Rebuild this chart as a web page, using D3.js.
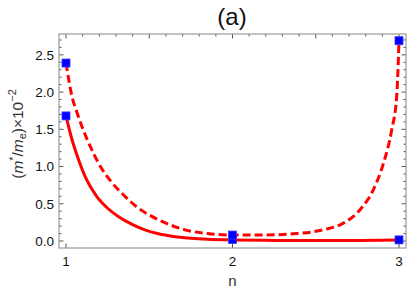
<!DOCTYPE html>
<html>
<head>
<meta charset="utf-8">
<script src="https://cdn.jsdelivr.net/npm/d3@7"></script>
<style>
  body { margin: 0; background: #fff; }
  svg { font-family: "Liberation Sans", Arial, sans-serif; }
</style>
</head>
<body>
<div id="chart"></div>
<script>
const width = 407;
const height = 291;
const margin = { top: 34, right: 1, bottom: 43, left: 59 };

// measured points (blue squares)
const pointsN = [1, 2, 3];
const solidPoints = [1.68, 0.02, 0.015];
const dashedPoints = [2.39, 0.08, 2.69];

// curves
const solidCurveN = [1.0, 1.03, 1.074, 1.12, 1.184, 1.25, 1.314, 1.4, 1.474, 1.55, 1.635, 1.75, 1.85, 2.0, 2.25, 2.5, 2.75, 3.0];
const solidCurveV = [1.68, 1.41, 1.10, 0.84, 0.60, 0.44, 0.33, 0.22, 0.15, 0.10, 0.065, 0.038, 0.024, 0.015, 0.008, 0.006, 0.008, 0.015];
const dashedCurveN = [1.0, 1.034, 1.07, 1.104, 1.15, 1.194, 1.27, 1.354, 1.43, 1.515, 1.6, 1.715, 1.85, 2.0, 2.185, 2.385, 2.545, 2.666, 2.766, 2.846, 2.906, 2.956, 2.986, 3.0];
const dashedCurveV = [2.39, 1.96, 1.70, 1.49, 1.25, 1.05, 0.80, 0.60, 0.45, 0.33, 0.24, 0.15, 0.10, 0.08, 0.08, 0.10, 0.15, 0.24, 0.42, 0.69, 1.04, 1.49, 1.94, 2.69];

const yTicks = [0, 0.5, 1, 1.5, 2, 2.5];
const xTicks = [1, 2, 3];

const x = d3.scaleLinear()
    .domain([0.958, 3.042])
    .range([margin.left, width - margin.right]);

const y = d3.scaleLinear()
    .domain([-0.094, 2.78])
    .range([height - margin.bottom, margin.top]);

const svg = d3.select('#chart')
    .append('svg')
    .attr('width', width)
    .attr('height', height);

const frameColor = '#999';
const x0 = margin.left, x1 = width - margin.right;
const y0 = height - margin.bottom, y1 = margin.top;

// minor ticks
const yMinor = d3.range(0, 28).map(i => i / 10);
const xMinor = d3.range(10, 31).map(i => i / 10);

const ticks = svg.append('g').attr('stroke', '#555').attr('stroke-width', 1);
yMinor.forEach(v => {
    const major = Math.abs(v * 2 - Math.round(v * 2)) < 1e-6;
    const len = major ? 4.5 : 2.5;
    ticks.append('line')
        .attr('x1', x0).attr('x2', x0 + len)
        .attr('y1', y(v)).attr('y2', y(v));
    ticks.append('line')
        .attr('x1', x1).attr('x2', x1 - len)
        .attr('y1', y(v)).attr('y2', y(v));
});
xMinor.forEach(v => {
    const major = Math.abs(v * 2 - Math.round(v * 2)) < 1e-6;
    const len = major ? 4.5 : 2.5;
    ticks.append('line')
        .attr('x1', x(v)).attr('x2', x(v))
        .attr('y1', y1).attr('y2', y1 + len);
});
xTicks.forEach(v => {
    ticks.append('line')
        .attr('x1', x(v)).attr('x2', x(v))
        .attr('y1', y0).attr('y2', y0 - 4.5);
});

// frame
svg.append('rect')
    .attr('x', x0).attr('y', y1)
    .attr('width', x1 - x0).attr('height', y0 - y1)
    .attr('fill', 'none')
    .attr('stroke', frameColor)
    .attr('stroke-width', 1.2);

// tick labels
svg.append('g').selectAll('text')
    .data(yTicks)
    .join('text')
    .attr('x', x0 - 5)
    .attr('y', d => y(d))
    .attr('dy', '0.36em')
    .attr('text-anchor', 'end')
    .attr('font-size', '13.5px')
    .attr('fill', '#111')
    .text(d => d.toFixed(1));

svg.append('g').selectAll('text')
    .data(xTicks)
    .join('text')
    .attr('x', d => x(d))
    .attr('y', y0 + 18)
    .attr('text-anchor', 'middle')
    .attr('font-size', '13.5px')
    .attr('fill', '#111')
    .text(d => d);

// axis labels
svg.append('text')
    .attr('x', x(2))
    .attr('y', 286)
    .attr('text-anchor', 'middle')
    .attr('font-size', '15px')
    .attr('fill', '#333')
    .text('n');

const yl = svg.append('text')
    .attr('transform', `translate(23, 134) rotate(-90)`)
    .attr('text-anchor', 'middle')
    .attr('font-size', '15.5px')
    .attr('fill', '#333');
yl.append('tspan').text('(');
yl.append('tspan').attr('font-style', 'italic').text('m');
yl.append('tspan').attr('font-size', '10.5px').attr('dy', '-6').text('*');
yl.append('tspan').attr('dy', '6').text('/');
yl.append('tspan').attr('font-style', 'italic').text('m');
yl.append('tspan').attr('font-size', '11px').attr('dy', '3').text('e');
yl.append('tspan').attr('dy', '-3').text(')×10');
yl.append('tspan').attr('font-size', '11px').attr('dy', '-7').text('−2');

// title
svg.append('text')
    .attr('x', 232)
    .attr('y', 25)
    .attr('text-anchor', 'middle')
    .attr('font-size', '24px')
    .attr('fill', '#111')
    .text('(a)');

// curves
const line = d3.line()
    .x(d => x(d[0]))
    .y(d => y(d[1]))
    .curve(d3.curveMonotoneX);

const plot = svg.append('g');

plot.append('path')
    .datum(solidCurveN.map((n, i) => [n, solidCurveV[i]]))
    .attr('fill', 'none')
    .attr('stroke', '#ff0000')
    .attr('stroke-width', 3)
    .attr('d', line);

plot.append('path')
    .datum(dashedCurveN.map((n, i) => [n, dashedCurveV[i]]))
    .attr('fill', 'none')
    .attr('stroke', '#ff0000')
    .attr('stroke-width', 3)
    .attr('stroke-dasharray', '8,4')
    .attr('d', line);

// squares
const sq = 8;
const allPts = pointsN.map((n, i) => [n, solidPoints[i]])
    .concat(pointsN.map((n, i) => [n, dashedPoints[i]]));
plot.selectAll('rect.pt')
    .data(allPts)
    .join('rect')
    .attr('class', 'pt')
    .attr('x', d => x(d[0]) - sq / 2)
    .attr('y', d => y(d[1]) - sq / 2)
    .attr('width', sq)
    .attr('height', sq)
    .attr('fill', '#0000ff')
    .attr('stroke', '#3a3aff')
    .attr('stroke-width', 0.8);
</script>
</body>
</html>
